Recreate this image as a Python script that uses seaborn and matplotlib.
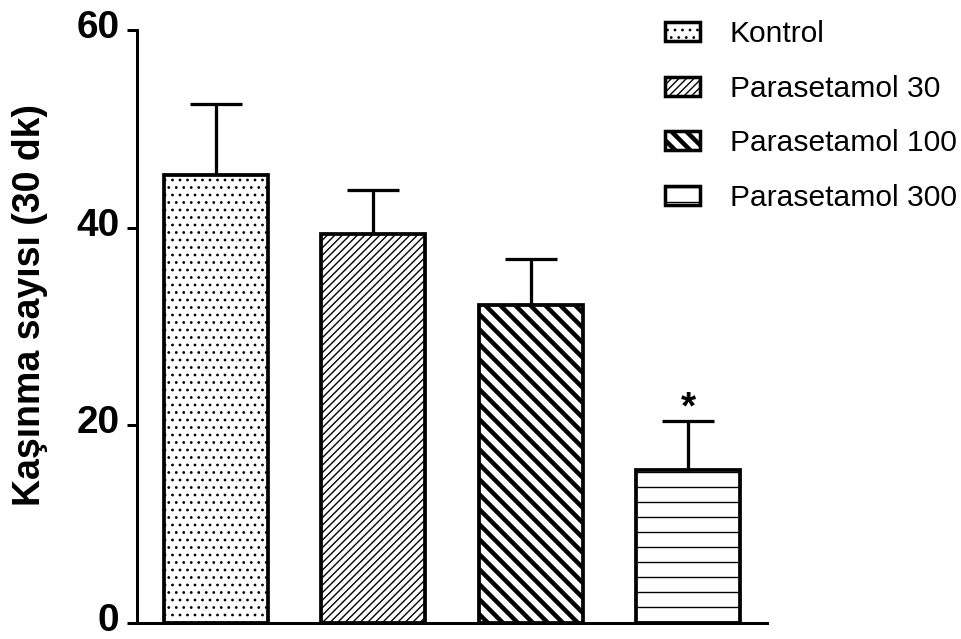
import matplotlib
matplotlib.use("Agg")
import matplotlib.pyplot as plt
from matplotlib.patches import Patch
from matplotlib.transforms import ScaledTranslation
import seaborn as sns
import pandas as pd

# Scratching counts over 30 min, mean and upper SEM
groups = ["Kontrol", "Parasetamol 30", "Parasetamol 100", "Parasetamol 300"]
means = [45.3, 39.4, 32.2, 15.5]
sem = [7.2, 4.4, 4.6, 4.9]
significance = ["", "", "", "*"]
yticks = [0, 20, 40, 60]
ylabel = "Kaşınma sayısı (30 dk)"

hatches = ["..", "////", "\\\\", "-"]
hatch_widths = [1.0, 1.1, 3.6, 1.1]

DPI = 90
sns.set_theme(style="ticks")
plt.rcParams["font.family"] = ["Liberation Sans", "DejaVu Sans"]
plt.rcParams.update({"text.color": "black", "axes.labelcolor": "black",
                     "xtick.color": "black", "ytick.color": "black"})

fig = plt.figure(figsize=(962 / DPI, 639 / DPI), dpi=DPI)
ax = fig.add_axes([0.1424, 0.025, 0.6546, 0.928])

df = pd.DataFrame({"group": groups, "mean": means})
sns.barplot(data=df, x="group", y="mean", order=groups, color="white",
            width=0.66, edgecolor="black", linewidth=3.0, ax=ax,
            errorbar=None, zorder=3)

for bar, h, hw in zip(ax.patches, hatches, hatch_widths):
    bar.set_facecolor("white")
    bar.set_hatch(h)
    if hasattr(bar, "set_hatch_linewidth"):
        bar.set_hatch_linewidth(hw)

xs = range(len(groups))
ax.errorbar(list(xs), means, yerr=[[0] * len(sem), sem], fmt="none",
            ecolor="black", elinewidth=2.6, capsize=21, capthick=2.6, zorder=2)

for x, m, s, mark in zip(xs, means, sem, significance):
    if mark:
        ax.text(x, m + s - 0.5, mark, ha="center", va="bottom",
                fontsize=31, fontweight="bold")

ax.set_xlim(-0.5, 3.5)
ax.set_ylim(0, 60)
ax.set_yticks(yticks)
ax.set_yticklabels([str(t) for t in yticks], fontsize=31, fontweight="bold")
ax.set_xticks([])
ax.set_xlabel("")
ax.set_ylabel(ylabel, fontsize=30, fontweight="bold")
ax.yaxis.set_label_coords(-0.141, 0.536)
ax.tick_params(axis="y", length=8, width=2.4, pad=6, color="black")
# tick labels sit slightly above their tick marks
lift = ScaledTranslation(0, 6 / DPI, fig.dpi_scale_trans)
for tick in ax.yaxis.get_major_ticks():
    tick.label1.set_transform(tick.label1.get_transform() + lift)
for side in ["top", "right"]:
    ax.spines[side].set_visible(False)
for side in ["left", "bottom"]:
    ax.spines[side].set_linewidth(2.4)
    ax.spines[side].set_color("black")

handles = [Patch(facecolor="white", edgecolor="black", hatch=h, linewidth=2.8, label=g)
           for g, h in zip(groups, hatches)]
leg = fig.legend(handles=handles, loc="upper left", bbox_to_anchor=(0.691, 0.968),
                 frameon=False, fontsize=24, handlelength=1.17, handleheight=0.6,
                 handletextpad=1.0, labelspacing=0.88, borderpad=0, borderaxespad=0)
for p, hw in zip(leg.get_patches(), hatch_widths):
    if hasattr(p, "set_hatch_linewidth"):
        p.set_hatch_linewidth(hw)

fig.savefig("out.png", dpi=DPI)
